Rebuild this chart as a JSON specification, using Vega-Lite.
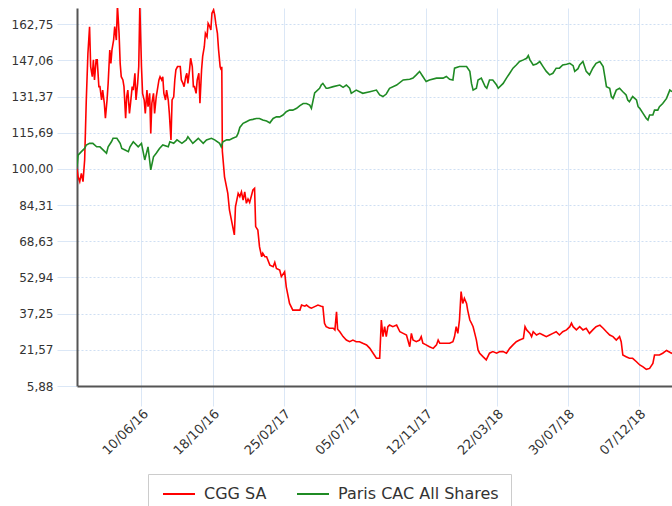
{
"$schema":"https://vega.github.io/schema/vega-lite/v6.json",
"width":595,"height":378,
"autosize":"none",
"padding":{"left":77,"top":8,"right":0,"bottom":120},
"config":{"font":"DejaVu Sans","view":{"stroke":null}},
"data":{"values":[
{"d":"2016-02-13","s":"CGG SA","v":100},{"d":"2016-02-15","s":"CGG SA","v":96.6},{"d":"2016-02-18","s":"CGG SA","v":94.5},{"d":"2016-02-21","s":"CGG SA","v":98.1},{"d":"2016-02-24","s":"CGG SA","v":94.5},{"d":"2016-02-27","s":"CGG SA","v":103.9},{"d":"2016-03-01","s":"CGG SA","v":129.9},{"d":"2016-03-04","s":"CGG SA","v":150.2},{"d":"2016-03-07","s":"CGG SA","v":161.7},{"d":"2016-03-09","s":"CGG SA","v":144.4},{"d":"2016-03-12","s":"CGG SA","v":140.0},{"d":"2016-03-14","s":"CGG SA","v":147.3},{"d":"2016-03-16","s":"CGG SA","v":138.6},{"d":"2016-03-19","s":"CGG SA","v":147.3},{"d":"2016-03-21","s":"CGG SA","v":147.3},{"d":"2016-03-24","s":"CGG SA","v":135.7},{"d":"2016-03-26","s":"CGG SA","v":135.7},{"d":"2016-03-29","s":"CGG SA","v":129.9},{"d":"2016-03-31","s":"CGG SA","v":134.2},{"d":"2016-04-03","s":"CGG SA","v":128.5},{"d":"2016-04-05","s":"CGG SA","v":122.0},{"d":"2016-04-08","s":"CGG SA","v":129.9},{"d":"2016-04-10","s":"CGG SA","v":137.1},{"d":"2016-04-13","s":"CGG SA","v":151.6},{"d":"2016-04-15","s":"CGG SA","v":145.8},{"d":"2016-04-17","s":"CGG SA","v":151.6},{"d":"2016-04-20","s":"CGG SA","v":155.9},{"d":"2016-04-22","s":"CGG SA","v":161.7},{"d":"2016-04-25","s":"CGG SA","v":155.9},{"d":"2016-04-27","s":"CGG SA","v":171},{"d":"2016-04-30","s":"CGG SA","v":158.8},{"d":"2016-05-02","s":"CGG SA","v":145.8},{"d":"2016-05-04","s":"CGG SA","v":140.0},{"d":"2016-05-07","s":"CGG SA","v":138.6},{"d":"2016-05-09","s":"CGG SA","v":135.7},{"d":"2016-05-12","s":"CGG SA","v":122.0},{"d":"2016-05-14","s":"CGG SA","v":131.3},{"d":"2016-05-16","s":"CGG SA","v":134.2},{"d":"2016-05-19","s":"CGG SA","v":124.1},{"d":"2016-05-21","s":"CGG SA","v":128.5},{"d":"2016-05-24","s":"CGG SA","v":135.7},{"d":"2016-05-26","s":"CGG SA","v":134.2},{"d":"2016-05-29","s":"CGG SA","v":141.5},{"d":"2016-05-31","s":"CGG SA","v":129.9},{"d":"2016-06-03","s":"CGG SA","v":137.1},{"d":"2016-06-05","s":"CGG SA","v":144.4},{"d":"2016-06-07","s":"CGG SA","v":171},{"d":"2016-06-10","s":"CGG SA","v":144.4},{"d":"2016-06-12","s":"CGG SA","v":132.8},{"d":"2016-06-15","s":"CGG SA","v":129.9},{"d":"2016-06-17","s":"CGG SA","v":124.1},{"d":"2016-06-20","s":"CGG SA","v":134.2},{"d":"2016-06-22","s":"CGG SA","v":127.0},{"d":"2016-06-25","s":"CGG SA","v":132.8},{"d":"2016-06-27","s":"CGG SA","v":115.4},{"d":"2016-06-29","s":"CGG SA","v":128.5},{"d":"2016-07-02","s":"CGG SA","v":132.8},{"d":"2016-07-04","s":"CGG SA","v":124.1},{"d":"2016-07-07","s":"CGG SA","v":131.3},{"d":"2016-07-09","s":"CGG SA","v":134.2},{"d":"2016-07-12","s":"CGG SA","v":138.6},{"d":"2016-07-14","s":"CGG SA","v":140.0},{"d":"2016-07-17","s":"CGG SA","v":138.6},{"d":"2016-07-19","s":"CGG SA","v":140.0},{"d":"2016-07-21","s":"CGG SA","v":132.8},{"d":"2016-07-24","s":"CGG SA","v":129.9},{"d":"2016-07-26","s":"CGG SA","v":134.2},{"d":"2016-07-29","s":"CGG SA","v":129.9},{"d":"2016-07-31","s":"CGG SA","v":124.1},{"d":"2016-08-03","s":"CGG SA","v":112.6},{"d":"2016-08-05","s":"CGG SA","v":129.9},{"d":"2016-08-08","s":"CGG SA","v":131.3},{"d":"2016-08-10","s":"CGG SA","v":138.6},{"d":"2016-08-12","s":"CGG SA","v":143.0},{"d":"2016-08-15","s":"CGG SA","v":144.4},{"d":"2016-08-17","s":"CGG SA","v":144.4},{"d":"2016-08-20","s":"CGG SA","v":144.4},{"d":"2016-08-22","s":"CGG SA","v":138.6},{"d":"2016-08-25","s":"CGG SA","v":137.1},{"d":"2016-08-27","s":"CGG SA","v":135.7},{"d":"2016-08-30","s":"CGG SA","v":140.0},{"d":"2016-09-01","s":"CGG SA","v":141.5},{"d":"2016-09-03","s":"CGG SA","v":137.1},{"d":"2016-09-06","s":"CGG SA","v":143.0},{"d":"2016-09-08","s":"CGG SA","v":148.0},{"d":"2016-09-11","s":"CGG SA","v":144.4},{"d":"2016-09-13","s":"CGG SA","v":135.7},{"d":"2016-09-15","s":"CGG SA","v":135.7},{"d":"2016-09-18","s":"CGG SA","v":132.8},{"d":"2016-09-20","s":"CGG SA","v":138.6},{"d":"2016-09-23","s":"CGG SA","v":141.5},{"d":"2016-09-25","s":"CGG SA","v":128.5},{"d":"2016-09-28","s":"CGG SA","v":143.0},{"d":"2016-09-30","s":"CGG SA","v":148.8},{"d":"2016-10-03","s":"CGG SA","v":153.0},{"d":"2016-10-05","s":"CGG SA","v":158.8},{"d":"2016-10-08","s":"CGG SA","v":157.3},{"d":"2016-10-10","s":"CGG SA","v":163.1},{"d":"2016-10-13","s":"CGG SA","v":161.7},{"d":"2016-10-15","s":"CGG SA","v":160.3},{"d":"2016-10-17","s":"CGG SA","v":167.5},{"d":"2016-10-20","s":"CGG SA","v":169.0},{"d":"2016-10-22","s":"CGG SA","v":166.8},{"d":"2016-10-24","s":"CGG SA","v":163.1},{"d":"2016-10-27","s":"CGG SA","v":158.8},{"d":"2016-10-29","s":"CGG SA","v":152.0},{"d":"2016-11-01","s":"CGG SA","v":144.3},{"d":"2016-11-03","s":"CGG SA","v":142.9},{"d":"2016-11-04","s":"CGG SA","v":144.3},{"d":"2016-11-05","s":"CGG SA","v":107.8},{"d":"2016-11-09","s":"CGG SA","v":96.6},{"d":"2016-11-15","s":"CGG SA","v":89.4},{"d":"2016-11-18","s":"CGG SA","v":82.2},{"d":"2016-11-24","s":"CGG SA","v":75.0},{"d":"2016-11-27","s":"CGG SA","v":71.4},{"d":"2016-11-29","s":"CGG SA","v":83.6},{"d":"2016-12-04","s":"CGG SA","v":89.4},{"d":"2016-12-07","s":"CGG SA","v":88.0},{"d":"2016-12-10","s":"CGG SA","v":90.1},{"d":"2016-12-13","s":"CGG SA","v":86.5},{"d":"2016-12-16","s":"CGG SA","v":90.1},{"d":"2016-12-19","s":"CGG SA","v":85.1},{"d":"2016-12-22","s":"CGG SA","v":87.0},{"d":"2016-12-25","s":"CGG SA","v":85.5},{"d":"2016-12-31","s":"CGG SA","v":90.9},
{"d":"2017-01-03","s":"CGG SA","v":91.6},{"d":"2017-01-05","s":"CGG SA","v":75.0},{"d":"2017-01-09","s":"CGG SA","v":73.5},{"d":"2017-01-12","s":"CGG SA","v":66.3},{"d":"2017-01-16","s":"CGG SA","v":61.9},{"d":"2017-01-18","s":"CGG SA","v":63.5},{"d":"2017-01-22","s":"CGG SA","v":61.9},{"d":"2017-01-25","s":"CGG SA","v":61.9},{"d":"2017-01-31","s":"CGG SA","v":58.3},{"d":"2017-02-06","s":"CGG SA","v":57.6},{"d":"2017-02-09","s":"CGG SA","v":59.5},{"d":"2017-02-12","s":"CGG SA","v":56.9},{"d":"2017-02-18","s":"CGG SA","v":56.2},{"d":"2017-02-21","s":"CGG SA","v":53.3},{"d":"2017-02-27","s":"CGG SA","v":55.4},{"d":"2017-03-02","s":"CGG SA","v":48.9},{"d":"2017-03-08","s":"CGG SA","v":41.7},{"d":"2017-03-14","s":"CGG SA","v":38.8},{"d":"2017-03-21","s":"CGG SA","v":38.8},{"d":"2017-03-27","s":"CGG SA","v":38.8},{"d":"2017-03-30","s":"CGG SA","v":41.0},{"d":"2017-04-05","s":"CGG SA","v":40.5},{"d":"2017-04-08","s":"CGG SA","v":41.0},{"d":"2017-04-14","s":"CGG SA","v":39.9},{"d":"2017-04-17","s":"CGG SA","v":39.6},{"d":"2017-04-23","s":"CGG SA","v":40.3},{"d":"2017-04-29","s":"CGG SA","v":41.0},{"d":"2017-05-05","s":"CGG SA","v":40.5},{"d":"2017-05-08","s":"CGG SA","v":40.3},{"d":"2017-05-11","s":"CGG SA","v":33.1},{"d":"2017-05-14","s":"CGG SA","v":31.6},{"d":"2017-05-20","s":"CGG SA","v":30.9},{"d":"2017-05-27","s":"CGG SA","v":30.9},{"d":"2017-05-30","s":"CGG SA","v":30.2},{"d":"2017-06-02","s":"CGG SA","v":38.1},{"d":"2017-06-04","s":"CGG SA","v":30.5},{"d":"2017-06-08","s":"CGG SA","v":29.4},{"d":"2017-06-14","s":"CGG SA","v":27.3},{"d":"2017-06-20","s":"CGG SA","v":25.8},{"d":"2017-06-26","s":"CGG SA","v":25.1},{"d":"2017-07-02","s":"CGG SA","v":25.8},{"d":"2017-07-08","s":"CGG SA","v":25.1},{"d":"2017-07-14","s":"CGG SA","v":25.1},{"d":"2017-07-20","s":"CGG SA","v":24.4},{"d":"2017-07-27","s":"CGG SA","v":23.7},{"d":"2017-08-02","s":"CGG SA","v":22.2},{"d":"2017-08-08","s":"CGG SA","v":20.1},{"d":"2017-08-14","s":"CGG SA","v":17.9},{"d":"2017-08-20","s":"CGG SA","v":17.9},{"d":"2017-08-23","s":"CGG SA","v":34.5},{"d":"2017-08-26","s":"CGG SA","v":27.3},{"d":"2017-08-29","s":"CGG SA","v":31.6},{"d":"2017-09-01","s":"CGG SA","v":27.3},{"d":"2017-09-04","s":"CGG SA","v":31.6},{"d":"2017-09-07","s":"CGG SA","v":32.3},{"d":"2017-09-13","s":"CGG SA","v":31.6},{"d":"2017-09-20","s":"CGG SA","v":32.3},{"d":"2017-09-26","s":"CGG SA","v":29.4},{"d":"2017-10-02","s":"CGG SA","v":28.7},{"d":"2017-10-08","s":"CGG SA","v":28.0},{"d":"2017-10-14","s":"CGG SA","v":22.9},{"d":"2017-10-17","s":"CGG SA","v":28.7},{"d":"2017-10-20","s":"CGG SA","v":25.8},{"d":"2017-10-26","s":"CGG SA","v":25.1},{"d":"2017-11-01","s":"CGG SA","v":25.8},{"d":"2017-11-04","s":"CGG SA","v":27.3},{"d":"2017-11-07","s":"CGG SA","v":24.4},{"d":"2017-11-13","s":"CGG SA","v":23.7},{"d":"2017-11-19","s":"CGG SA","v":22.9},{"d":"2017-11-26","s":"CGG SA","v":22.2},{"d":"2017-12-02","s":"CGG SA","v":23.7},{"d":"2017-12-05","s":"CGG SA","v":25.8},{"d":"2017-12-08","s":"CGG SA","v":24.4},{"d":"2017-12-14","s":"CGG SA","v":24.4},{"d":"2017-12-20","s":"CGG SA","v":24.4},{"d":"2017-12-26","s":"CGG SA","v":24.4},
{"d":"2018-01-01","s":"CGG SA","v":25.1},{"d":"2018-01-04","s":"CGG SA","v":27.3},{"d":"2018-01-07","s":"CGG SA","v":31.6},{"d":"2018-01-10","s":"CGG SA","v":28.7},{"d":"2018-01-13","s":"CGG SA","v":34.5},{"d":"2018-01-16","s":"CGG SA","v":46.8},{"d":"2018-01-19","s":"CGG SA","v":41.7},{"d":"2018-01-22","s":"CGG SA","v":43.9},{"d":"2018-01-26","s":"CGG SA","v":41.7},{"d":"2018-01-28","s":"CGG SA","v":38.8},{"d":"2018-02-01","s":"CGG SA","v":34.5},{"d":"2018-02-04","s":"CGG SA","v":33.1},{"d":"2018-02-07","s":"CGG SA","v":31.6},{"d":"2018-02-10","s":"CGG SA","v":28.7},{"d":"2018-02-13","s":"CGG SA","v":25.8},{"d":"2018-02-16","s":"CGG SA","v":21.5},{"d":"2018-02-19","s":"CGG SA","v":20.1},{"d":"2018-02-25","s":"CGG SA","v":18.6},{"d":"2018-03-03","s":"CGG SA","v":17.2},{"d":"2018-03-09","s":"CGG SA","v":20.1},{"d":"2018-03-15","s":"CGG SA","v":20.8},{"d":"2018-03-22","s":"CGG SA","v":20.1},{"d":"2018-03-28","s":"CGG SA","v":20.8},{"d":"2018-04-03","s":"CGG SA","v":20.8},{"d":"2018-04-09","s":"CGG SA","v":20.1},{"d":"2018-04-15","s":"CGG SA","v":22.2},{"d":"2018-04-21","s":"CGG SA","v":23.7},{"d":"2018-04-27","s":"CGG SA","v":25.1},{"d":"2018-05-03","s":"CGG SA","v":25.8},{"d":"2018-05-10","s":"CGG SA","v":26.5},{"d":"2018-05-13","s":"CGG SA","v":31.6},{"d":"2018-05-16","s":"CGG SA","v":30.2},{"d":"2018-05-22","s":"CGG SA","v":28.7},{"d":"2018-05-25","s":"CGG SA","v":27.3},{"d":"2018-05-28","s":"CGG SA","v":29.4},{"d":"2018-06-03","s":"CGG SA","v":28.0},{"d":"2018-06-09","s":"CGG SA","v":28.7},{"d":"2018-06-15","s":"CGG SA","v":28.0},{"d":"2018-06-21","s":"CGG SA","v":27.3},{"d":"2018-06-27","s":"CGG SA","v":28.0},{"d":"2018-07-03","s":"CGG SA","v":28.7},{"d":"2018-07-09","s":"CGG SA","v":29.4},{"d":"2018-07-15","s":"CGG SA","v":28.0},{"d":"2018-07-21","s":"CGG SA","v":29.4},{"d":"2018-07-28","s":"CGG SA","v":30.2},{"d":"2018-08-03","s":"CGG SA","v":31.6},{"d":"2018-08-06","s":"CGG SA","v":33.1},{"d":"2018-08-09","s":"CGG SA","v":31.6},{"d":"2018-08-15","s":"CGG SA","v":30.2},{"d":"2018-08-21","s":"CGG SA","v":31.6},{"d":"2018-08-27","s":"CGG SA","v":30.2},{"d":"2018-09-02","s":"CGG SA","v":30.9},{"d":"2018-09-08","s":"CGG SA","v":28.7},{"d":"2018-09-14","s":"CGG SA","v":30.2},{"d":"2018-09-20","s":"CGG SA","v":31.6},{"d":"2018-09-27","s":"CGG SA","v":32.3},{"d":"2018-10-03","s":"CGG SA","v":30.9},{"d":"2018-10-09","s":"CGG SA","v":29.4},{"d":"2018-10-15","s":"CGG SA","v":28.0},{"d":"2018-10-21","s":"CGG SA","v":27.3},{"d":"2018-10-27","s":"CGG SA","v":25.8},{"d":"2018-11-02","s":"CGG SA","v":27.3},{"d":"2018-11-05","s":"CGG SA","v":25.1},{"d":"2018-11-08","s":"CGG SA","v":19.3},{"d":"2018-11-14","s":"CGG SA","v":18.6},{"d":"2018-11-20","s":"CGG SA","v":17.9},{"d":"2018-11-26","s":"CGG SA","v":17.9},{"d":"2018-12-03","s":"CGG SA","v":16.4},{"d":"2018-12-09","s":"CGG SA","v":15.0},{"d":"2018-12-15","s":"CGG SA","v":14.2},{"d":"2018-12-21","s":"CGG SA","v":13.1},{"d":"2018-12-27","s":"CGG SA","v":13.5},{"d":"2019-01-02","s":"CGG SA","v":15.7},{"d":"2019-01-05","s":"CGG SA","v":19.3},{"d":"2019-01-08","s":"CGG SA","v":19.3},{"d":"2019-01-14","s":"CGG SA","v":19.3},{"d":"2019-01-20","s":"CGG SA","v":20.1},{"d":"2019-01-27","s":"CGG SA","v":21.3},{"d":"2019-02-02","s":"CGG SA","v":20.5},{"d":"2019-02-06","s":"CGG SA","v":20.0},
{"d":"2016-02-13","s":"Paris CAC All Shares","v":101},{"d":"2016-02-15","s":"Paris CAC All Shares","v":106},{"d":"2016-02-21","s":"Paris CAC All Shares","v":107.5},{"d":"2016-02-27","s":"Paris CAC All Shares","v":108.9},{"d":"2016-03-01","s":"Paris CAC All Shares","v":110.4},{"d":"2016-03-07","s":"Paris CAC All Shares","v":111.1},{"d":"2016-03-13","s":"Paris CAC All Shares","v":111.1},{"d":"2016-03-20","s":"Paris CAC All Shares","v":109.6},{"d":"2016-03-26","s":"Paris CAC All Shares","v":109.6},{"d":"2016-04-04","s":"Paris CAC All Shares","v":107.5},{"d":"2016-04-07","s":"Paris CAC All Shares","v":106.8},{"d":"2016-04-10","s":"Paris CAC All Shares","v":109.6},{"d":"2016-04-16","s":"Paris CAC All Shares","v":111.8},{"d":"2016-04-19","s":"Paris CAC All Shares","v":113.3},{"d":"2016-04-26","s":"Paris CAC All Shares","v":113.3},{"d":"2016-05-02","s":"Paris CAC All Shares","v":111.1},{"d":"2016-05-05","s":"Paris CAC All Shares","v":108.9},{"d":"2016-05-11","s":"Paris CAC All Shares","v":108.2},{"d":"2016-05-17","s":"Paris CAC All Shares","v":107.5},{"d":"2016-05-20","s":"Paris CAC All Shares","v":109.6},{"d":"2016-05-26","s":"Paris CAC All Shares","v":111.8},{"d":"2016-06-04","s":"Paris CAC All Shares","v":109.6},{"d":"2016-06-10","s":"Paris CAC All Shares","v":111.1},{"d":"2016-06-13","s":"Paris CAC All Shares","v":107.5},{"d":"2016-06-16","s":"Paris CAC All Shares","v":103.9},{"d":"2016-06-22","s":"Paris CAC All Shares","v":109.6},{"d":"2016-06-27","s":"Paris CAC All Shares","v":99.6},{"d":"2016-07-02","s":"Paris CAC All Shares","v":105.3},{"d":"2016-07-07","s":"Paris CAC All Shares","v":106.8},{"d":"2016-07-13","s":"Paris CAC All Shares","v":108.9},{"d":"2016-07-19","s":"Paris CAC All Shares","v":110.4},{"d":"2016-07-29","s":"Paris CAC All Shares","v":109.6},{"d":"2016-08-01","s":"Paris CAC All Shares","v":111.8},{"d":"2016-08-08","s":"Paris CAC All Shares","v":111.1},{"d":"2016-08-14","s":"Paris CAC All Shares","v":112.6},{"d":"2016-08-23","s":"Paris CAC All Shares","v":111.1},{"d":"2016-08-31","s":"Paris CAC All Shares","v":112.6},{"d":"2016-09-03","s":"Paris CAC All Shares","v":114.0},{"d":"2016-09-12","s":"Paris CAC All Shares","v":111.1},{"d":"2016-09-22","s":"Paris CAC All Shares","v":113.3},{"d":"2016-10-01","s":"Paris CAC All Shares","v":111.1},{"d":"2016-10-07","s":"Paris CAC All Shares","v":112.6},{"d":"2016-10-16","s":"Paris CAC All Shares","v":113.3},{"d":"2016-10-22","s":"Paris CAC All Shares","v":112.6},{"d":"2016-10-31","s":"Paris CAC All Shares","v":111.1},{"d":"2016-11-03","s":"Paris CAC All Shares","v":109.6},{"d":"2016-11-06","s":"Paris CAC All Shares","v":111.8},{"d":"2016-11-13","s":"Paris CAC All Shares","v":112.6},{"d":"2016-11-18","s":"Paris CAC All Shares","v":112.6},{"d":"2016-11-24","s":"Paris CAC All Shares","v":113.3},{"d":"2016-12-01","s":"Paris CAC All Shares","v":114.0},{"d":"2016-12-04","s":"Paris CAC All Shares","v":115.5},{"d":"2016-12-07","s":"Paris CAC All Shares","v":118.0},{"d":"2016-12-13","s":"Paris CAC All Shares","v":119.8},{"d":"2016-12-19","s":"Paris CAC All Shares","v":120.5},{"d":"2016-12-25","s":"Paris CAC All Shares","v":121.2},{"d":"2016-12-31","s":"Paris CAC All Shares","v":121.5},
{"d":"2017-01-06","s":"Paris CAC All Shares","v":121.9},{"d":"2017-01-12","s":"Paris CAC All Shares","v":121.9},{"d":"2017-01-18","s":"Paris CAC All Shares","v":121.2},{"d":"2017-01-25","s":"Paris CAC All Shares","v":120.8},{"d":"2017-01-31","s":"Paris CAC All Shares","v":120.0},{"d":"2017-02-06","s":"Paris CAC All Shares","v":121.9},{"d":"2017-02-12","s":"Paris CAC All Shares","v":122.6},{"d":"2017-02-18","s":"Paris CAC All Shares","v":122.6},{"d":"2017-02-24","s":"Paris CAC All Shares","v":123.4},{"d":"2017-03-02","s":"Paris CAC All Shares","v":124.8},{"d":"2017-03-08","s":"Paris CAC All Shares","v":125.5},{"d":"2017-03-14","s":"Paris CAC All Shares","v":125.5},{"d":"2017-03-21","s":"Paris CAC All Shares","v":126.3},{"d":"2017-03-27","s":"Paris CAC All Shares","v":127.5},{"d":"2017-04-02","s":"Paris CAC All Shares","v":128.4},{"d":"2017-04-08","s":"Paris CAC All Shares","v":128.4},{"d":"2017-04-14","s":"Paris CAC All Shares","v":127.7},{"d":"2017-04-17","s":"Paris CAC All Shares","v":126.3},{"d":"2017-04-23","s":"Paris CAC All Shares","v":133.0},{"d":"2017-05-02","s":"Paris CAC All Shares","v":135.0},{"d":"2017-05-05","s":"Paris CAC All Shares","v":136.4},{"d":"2017-05-08","s":"Paris CAC All Shares","v":137.1},{"d":"2017-05-14","s":"Paris CAC All Shares","v":135.0},{"d":"2017-05-17","s":"Paris CAC All Shares","v":135.0},{"d":"2017-05-27","s":"Paris CAC All Shares","v":135.7},{"d":"2017-06-08","s":"Paris CAC All Shares","v":136.4},{"d":"2017-06-14","s":"Paris CAC All Shares","v":135.4},{"d":"2017-06-20","s":"Paris CAC All Shares","v":136.4},{"d":"2017-06-26","s":"Paris CAC All Shares","v":135.0},{"d":"2017-06-29","s":"Paris CAC All Shares","v":132.8},{"d":"2017-07-08","s":"Paris CAC All Shares","v":134.2},{"d":"2017-07-20","s":"Paris CAC All Shares","v":132.8},{"d":"2017-08-02","s":"Paris CAC All Shares","v":133.5},{"d":"2017-08-14","s":"Paris CAC All Shares","v":134.2},{"d":"2017-08-20","s":"Paris CAC All Shares","v":132.1},{"d":"2017-08-26","s":"Paris CAC All Shares","v":131.4},{"d":"2017-09-01","s":"Paris CAC All Shares","v":132.5},{"d":"2017-09-07","s":"Paris CAC All Shares","v":135.0},{"d":"2017-09-20","s":"Paris CAC All Shares","v":136.4},{"d":"2017-10-02","s":"Paris CAC All Shares","v":138.6},{"d":"2017-10-14","s":"Paris CAC All Shares","v":138.9},{"d":"2017-10-20","s":"Paris CAC All Shares","v":139.4},{"d":"2017-10-26","s":"Paris CAC All Shares","v":140.8},{"d":"2017-11-01","s":"Paris CAC All Shares","v":142.3},{"d":"2017-11-07","s":"Paris CAC All Shares","v":140.1},{"d":"2017-11-13","s":"Paris CAC All Shares","v":137.9},{"d":"2017-11-19","s":"Paris CAC All Shares","v":138.6},{"d":"2017-12-02","s":"Paris CAC All Shares","v":139.4},{"d":"2017-12-14","s":"Paris CAC All Shares","v":139.4},{"d":"2017-12-20","s":"Paris CAC All Shares","v":140.1},{"d":"2017-12-26","s":"Paris CAC All Shares","v":138.9},
{"d":"2018-01-01","s":"Paris CAC All Shares","v":138.6},{"d":"2018-01-04","s":"Paris CAC All Shares","v":143.7},{"d":"2018-01-13","s":"Paris CAC All Shares","v":144.4},{"d":"2018-01-26","s":"Paris CAC All Shares","v":144.4},{"d":"2018-02-01","s":"Paris CAC All Shares","v":142.3},{"d":"2018-02-04","s":"Paris CAC All Shares","v":137.1},{"d":"2018-02-07","s":"Paris CAC All Shares","v":134.2},{"d":"2018-02-13","s":"Paris CAC All Shares","v":135.0},{"d":"2018-02-16","s":"Paris CAC All Shares","v":138.6},{"d":"2018-02-22","s":"Paris CAC All Shares","v":139.4},{"d":"2018-03-01","s":"Paris CAC All Shares","v":135.7},{"d":"2018-03-04","s":"Paris CAC All Shares","v":135.0},{"d":"2018-03-09","s":"Paris CAC All Shares","v":138.6},{"d":"2018-03-15","s":"Paris CAC All Shares","v":138.6},{"d":"2018-03-22","s":"Paris CAC All Shares","v":136.4},{"d":"2018-03-25","s":"Paris CAC All Shares","v":135.0},{"d":"2018-04-03","s":"Paris CAC All Shares","v":137.1},{"d":"2018-04-09","s":"Paris CAC All Shares","v":139.4},{"d":"2018-04-15","s":"Paris CAC All Shares","v":141.5},{"d":"2018-04-21","s":"Paris CAC All Shares","v":143.7},{"d":"2018-04-27","s":"Paris CAC All Shares","v":145.1},{"d":"2018-05-03","s":"Paris CAC All Shares","v":146.6},{"d":"2018-05-10","s":"Paris CAC All Shares","v":147.3},{"d":"2018-05-16","s":"Paris CAC All Shares","v":148.0},{"d":"2018-05-19","s":"Paris CAC All Shares","v":149.2},{"d":"2018-05-22","s":"Paris CAC All Shares","v":147.3},{"d":"2018-05-28","s":"Paris CAC All Shares","v":145.1},{"d":"2018-06-03","s":"Paris CAC All Shares","v":145.5},{"d":"2018-06-09","s":"Paris CAC All Shares","v":146.6},{"d":"2018-06-15","s":"Paris CAC All Shares","v":144.4},{"d":"2018-06-21","s":"Paris CAC All Shares","v":142.3},{"d":"2018-06-27","s":"Paris CAC All Shares","v":140.8},{"d":"2018-07-03","s":"Paris CAC All Shares","v":141.5},{"d":"2018-07-09","s":"Paris CAC All Shares","v":143.7},{"d":"2018-07-15","s":"Paris CAC All Shares","v":143.7},{"d":"2018-07-21","s":"Paris CAC All Shares","v":145.1},{"d":"2018-07-28","s":"Paris CAC All Shares","v":145.4},{"d":"2018-08-03","s":"Paris CAC All Shares","v":145.8},{"d":"2018-08-09","s":"Paris CAC All Shares","v":144.8},{"d":"2018-08-12","s":"Paris CAC All Shares","v":142.3},{"d":"2018-08-18","s":"Paris CAC All Shares","v":143.5},{"d":"2018-08-21","s":"Paris CAC All Shares","v":145.1},{"d":"2018-08-27","s":"Paris CAC All Shares","v":146.6},{"d":"2018-09-02","s":"Paris CAC All Shares","v":142.3},{"d":"2018-09-08","s":"Paris CAC All Shares","v":140.8},{"d":"2018-09-14","s":"Paris CAC All Shares","v":143.7},{"d":"2018-09-20","s":"Paris CAC All Shares","v":145.8},{"d":"2018-09-27","s":"Paris CAC All Shares","v":146.6},{"d":"2018-10-03","s":"Paris CAC All Shares","v":144.4},{"d":"2018-10-06","s":"Paris CAC All Shares","v":140.1},{"d":"2018-10-09","s":"Paris CAC All Shares","v":135.7},{"d":"2018-10-15","s":"Paris CAC All Shares","v":135.0},{"d":"2018-10-18","s":"Paris CAC All Shares","v":131.4},{"d":"2018-10-21","s":"Paris CAC All Shares","v":130.6},{"d":"2018-10-27","s":"Paris CAC All Shares","v":134.2},{"d":"2018-11-02","s":"Paris CAC All Shares","v":135.0},{"d":"2018-11-08","s":"Paris CAC All Shares","v":133.5},{"d":"2018-11-14","s":"Paris CAC All Shares","v":132.1},{"d":"2018-11-17","s":"Paris CAC All Shares","v":129.9},{"d":"2018-11-20","s":"Paris CAC All Shares","v":129.2},{"d":"2018-11-26","s":"Paris CAC All Shares","v":131.4},{"d":"2018-12-03","s":"Paris CAC All Shares","v":129.9},{"d":"2018-12-06","s":"Paris CAC All Shares","v":127.0},{"d":"2018-12-09","s":"Paris CAC All Shares","v":126.3},{"d":"2018-12-15","s":"Paris CAC All Shares","v":124.1},{"d":"2018-12-21","s":"Paris CAC All Shares","v":121.9},{"d":"2018-12-24","s":"Paris CAC All Shares","v":121.2},{"d":"2018-12-27","s":"Paris CAC All Shares","v":123.4},{"d":"2019-01-02","s":"Paris CAC All Shares","v":123.4},{"d":"2019-01-05","s":"Paris CAC All Shares","v":125.5},{"d":"2019-01-11","s":"Paris CAC All Shares","v":125.5},{"d":"2019-01-14","s":"Paris CAC All Shares","v":127.0},{"d":"2019-01-20","s":"Paris CAC All Shares","v":128.4},{"d":"2019-01-27","s":"Paris CAC All Shares","v":130.6},{"d":"2019-02-02","s":"Paris CAC All Shares","v":134.2},{"d":"2019-02-06","s":"Paris CAC All Shares","v":133.5}
]},
"mark":{"type":"line","strokeWidth":1.6,"clip":true},
"encoding":{
"x":{"field":"d","type":"temporal","scale":{"type":"utc","domain":[{"year":2016,"month":2,"date":13,"utc":true},{"year":2019,"month":2,"date":6,"utc":true}]},
"axis":{"title":null,"values":[{"year":2016,"month":6,"date":10,"utc":true},{"year":2016,"month":10,"date":18,"utc":true},{"year":2017,"month":2,"date":25,"utc":true},{"year":2017,"month":7,"date":5,"utc":true},{"year":2017,"month":11,"date":12,"utc":true},{"year":2018,"month":3,"date":22,"utc":true},{"year":2018,"month":7,"date":30,"utc":true},{"year":2018,"month":12,"date":7,"utc":true}],
"labelExpr":"utcFormat(datum.value, '%d/%m/%y')","labelAngle":-45,"labelFontSize":13,"labelColor":"#333333","labelPadding":1,"labelOverlap":false,"labelFlush":false,
"tickSize":20,"tickColor":"#dbe7f6","gridColor":"#dbe7f6","domainColor":"#555555","domainWidth":2}},
"y":{"field":"v","type":"quantitative","scale":{"domain":[5.88,169.8],"nice":false,"zero":false},
"axis":{"title":null,"values":[5.88,21.57,37.25,52.94,68.63,84.31,100,115.69,131.37,147.06,162.75],
"labelExpr":"replace(format(datum.value, '.2f'), '.', ',')","labelFontSize":12,"labelColor":"#333333","labelPadding":4,"labelOverlap":false,
"tickSize":20,"tickColor":"#dbe7f6","gridColor":"#cfdff3","gridDash":[2,2],"domainColor":"#555555","domainWidth":2}},
"color":{"field":"s","type":"nominal","scale":{"domain":["CGG SA","Paris CAC All Shares"],"range":["#ff0000","#1f8b24"]},
"legend":{"title":null,"orient":"none","legendX":71,"legendY":466,"direction":"horizontal","symbolType":"M-1,0H5.4","symbolSize":100,"symbolStrokeWidth":2,"symbolFillColor":"transparent","labelFontSize":16,"labelColor":"#333333","labelOffset":28,"columnPadding":26,"padding":12,"strokeColor":"#cccccc","labelLimit":300}}
}
}
